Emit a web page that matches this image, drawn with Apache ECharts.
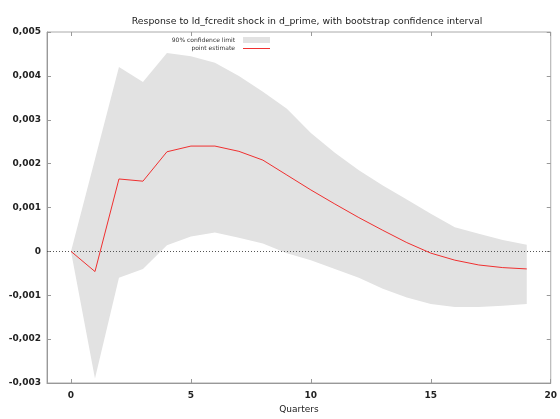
<!DOCTYPE html>
<html><head><meta charset="utf-8">
<script src="https://cdn.jsdelivr.net/npm/echarts@6/dist/echarts.min.js"></script>
<style>html,body{margin:0;padding:0;background:#fff}#c{width:560px;height:419px}</style>
</head><body><div id="c"></div>
<script>
var quarters = [0,1,2,3,4,5,6,7,8,9,10,11,12,13,14,15,16,17,18,19];
var pointEstimate = [0,-0.00046,0.00165,0.0016,0.00227,0.0024,0.0024,0.00228,0.00208,0.00174,0.0014,0.00108,0.00077,0.00048,0.0002,-0.00004,-0.0002,-0.00031,-0.00037,-0.0004];
var upper = [0,0.0021,0.0042,0.00386,0.00452,0.00445,0.0043,0.004,0.00364,0.00325,0.0027,0.00225,0.00185,0.0015,0.00118,0.00086,0.00055,0.0004,0.00026,0.00015];
var lower = [0,-0.0029,-0.0006,-0.0004,0.00014,0.00034,0.00043,0.00031,0.00018,-0.00004,-0.0002,-0.0004,-0.0006,-0.00085,-0.00105,-0.0012,-0.00127,-0.00127,-0.00124,-0.0012];
var xTicks = [0,5,10,15,20];
var legendLabels = ['90% confidence limit','point estimate'];

var bandColor = '#e2e2e2';
var lineColor = '#f03030';
var estPts = quarters.map(function(q,i){return [q, pointEstimate[i]];});
var bandData = quarters.map(function(q,i){return [q, lower[i], upper[i]];});

function fmtY(v){
  if (Math.abs(v) < 1e-12) return '0';
  return v.toFixed(3).replace('.', ',');
}
var font = 'DejaVu Sans';
var chart = echarts.init(document.getElementById('c'), null, {renderer:'canvas'});
chart.setOption({
  animation:false,
  backgroundColor:'#fff',
  title:{text:'Response to ld_fcredit shock in d_prime, with bootstrap confidence interval',
    left:302, top:12, textAlign:'center',
    textStyle:{fontFamily:font, fontSize:9.3, fontWeight:'normal', color:'#222'}},
  grid:{left:47, right:9, top:32, bottom:36, show:true, borderColor:'#aaa', borderWidth:1},
  xAxis:[{
    type:'value', min:-1, max:20,
    name:'Quarters', nameLocation:'middle', nameGap:21,
    nameTextStyle:{fontFamily:font, fontSize:9, color:'#222'},
    axisLine:{show:true, onZero:false, lineStyle:{color:'#999'}},
    axisTick:{show:true, inside:true, length:4, customValues:xTicks, lineStyle:{color:'#999'}},
    axisLabel:{customValues:xTicks, fontFamily:font, fontSize:9, fontWeight:'bold', color:'#222', margin:8},
    splitLine:{show:false}
  },{
    type:'value', min:-1, max:20, position:'top',
    axisLine:{show:false, onZero:false},
    axisTick:{show:true, inside:true, length:4, customValues:xTicks, lineStyle:{color:'#999'}},
    axisLabel:{show:false}, splitLine:{show:false}
  }],
  yAxis:[{
    type:'value', min:-0.003, max:0.005, interval:0.001,
    axisLine:{show:true, onZero:false, lineStyle:{color:'#999'}},
    axisTick:{show:true, inside:true, length:4, lineStyle:{color:'#999'}},
    axisLabel:{formatter:fmtY, fontFamily:font, fontSize:9, fontWeight:'bold', color:'#222', margin:6},
    splitLine:{show:false}
  },{
    type:'value', min:-0.003, max:0.005, interval:0.001, position:'right',
    axisLine:{show:false, onZero:false},
    axisTick:{show:true, inside:true, length:4, lineStyle:{color:'#999'}},
    axisLabel:{show:false}, splitLine:{show:false}
  }],
  graphic:[
    {type:'text', right:325, top:37, style:{text:legendLabels[0], fontFamily:font, fontSize:6, fill:'#333', textAlign:'right'}},
    {type:'rect', left:243, top:37, shape:{width:27, height:6}, style:{fill:bandColor}},
    {type:'text', right:325, top:45, style:{text:legendLabels[1], fontFamily:font, fontSize:6, fill:'#333', textAlign:'right'}},
    {type:'rect', left:243, top:48, shape:{width:27, height:1}, style:{fill:lineColor}}
  ],
  series:[{
    name:legendLabels[0], type:'custom', data:bandData, z:1, silent:true,
    encode:{x:0, y:[1,2]},
    renderItem:function(params, api){
      if (params.dataIndex !== 0) return null;
      var pts = [];
      for (var i=0;i<bandData.length;i++) pts.push(api.coord([bandData[i][0], bandData[i][2]]));
      for (var j=bandData.length-1;j>=0;j--) pts.push(api.coord([bandData[j][0], bandData[j][1]]));
      return {type:'polygon', shape:{points:pts}, style:{fill:bandColor, stroke:null}};
    }
  },{
    name:legendLabels[1], type:'line', data:estPts, symbol:'none', z:5,
    color:lineColor, lineStyle:{color:lineColor, width:1},
    markLine:{silent:true, symbol:'none', label:{show:false},
      lineStyle:{type:[1,2], color:'#555', width:1},
      data:[{yAxis:0}]}
  }]
});
</script></body></html>
